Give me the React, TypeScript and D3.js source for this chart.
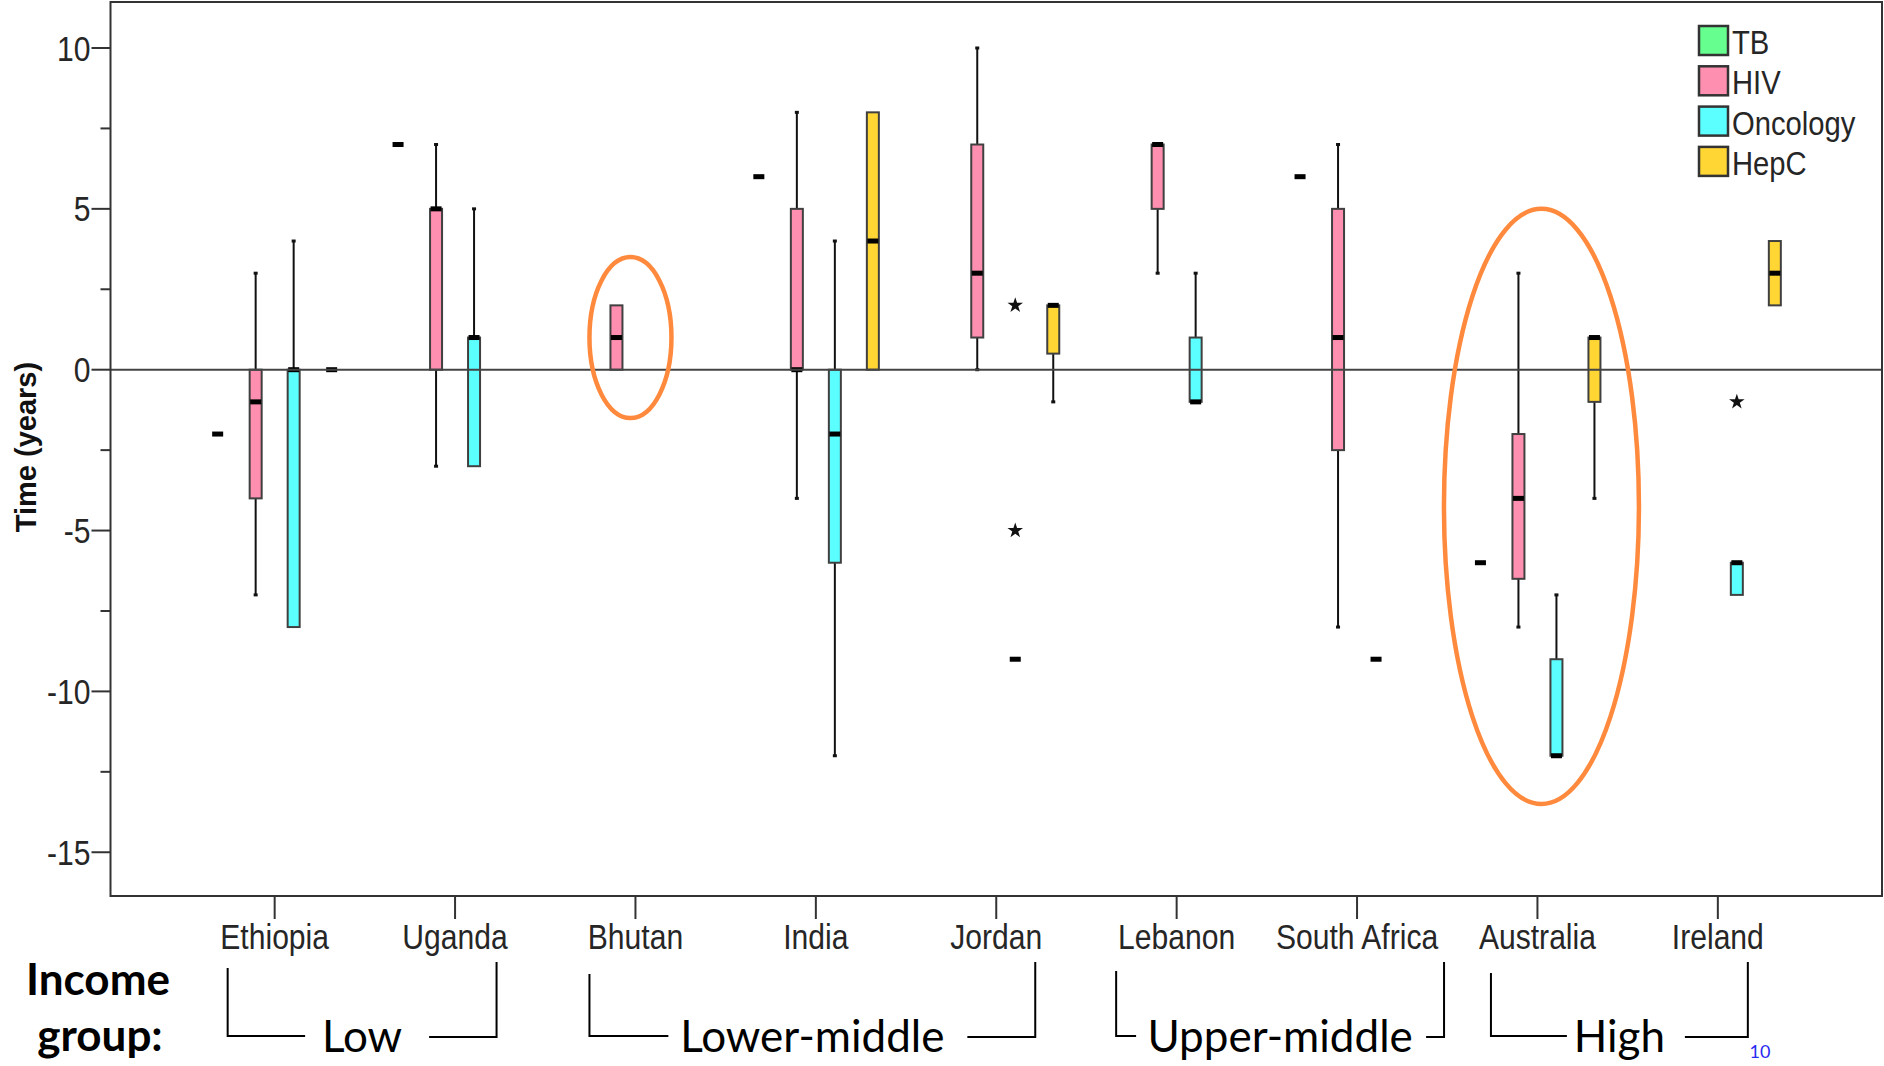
import React from "react";
import * as d3 from "d3";

// categories along the x axis
const categories = [
  "Ethiopia",
  "Uganda",
  "Bhutan",
  "India",
  "Jordan",
  "Lebanon",
  "South Africa",
  "Australia",
  "Ireland"
];

const seriesNames = ["TB", "HIV", "Oncology", "HepC"];

// box stats per category: [lowWhisker, q1, median, q3, highWhisker], null = no data
const tbStats = [
  [-2, -2, -2, -2, -2],
  [7, 7, 7, 7, 7],
  null,
  [6, 6, 6, 6, 6],
  null,
  null,
  [6, 6, 6, 6, 6],
  [-6, -6, -6, -6, -6],
  null
];

const hivStats = [
  [-7, -4, -1, 0, 3],
  [-3, 0, 5, 5, 7],
  [0, 0, 1, 2, 2],
  [-4, 0, 0, 5, 8],
  [0, 1, 3, 7, 10],
  [3, 5, 7, 7, 7],
  [-8, -2.5, 1, 5, 7],
  [-8, -6.5, -4, -2, 3],
  null
];

const oncologyStats = [
  [-8, -8, 0, 0, 4],
  [-3, -3, 1, 1, 5],
  null,
  [-12, -6, -2, 0, 4],
  [-9, -9, -9, -9, -9],
  [-1, -1, -1, 1, 3],
  [-9, -9, -9, -9, -9],
  [-12, -12, -12, -9, -7],
  [-7, -7, -6, -6, -6]
];

const hepcStats = [
  [0, 0, 0, 0, 0],
  null,
  null,
  [0, 0, 4, 8, 8],
  [-1, 0.5, 2, 2, 2],
  null,
  null,
  [-4, -1, 1, 1, 1],
  [2, 2, 3, 4, 4]
];

const allStats = [tbStats, hivStats, oncologyStats, hepcStats];

// extreme values (stars)
const extremeCategories = ["Jordan", "Jordan", "Ireland"];
const extremeSeries = ["Oncology", "Oncology", "Oncology"];
const extremeValues = [2, -5, -1];

const yMajorTicks = [10, 5, 0, -5, -10, -15];
const yMinorTicks = [7.5, 2.5, -2.5, -7.5, -12.5];

// income groups under the axis
const groupLabels = ["Low", "Lower-middle", "Upper-middle", "High"];
const groupFirst = ["Ethiopia", "Bhutan", "Lebanon", "Australia"];
const groupLast = ["Uganda", "Jordan", "South Africa", "Ireland"];

// highlighted ellipses: category, centre value, half height (in years)
const ringCategories = ["Bhutan", "Australia"];
const ringCenters = [1, -4.25];
const ringHalfSpans = [2.5, 9.25];

const colors = ["#66FF8F", "#FF8FB0", "#5CFFFF", "#FFD633"];

const W = 1884;
const H = 1066;
const plot = { left: 110.5, right: 1882, top: 2, bottom: 896 };

// hand drawn bracket tweaks (px): outer left, outer right, text gap left/right, left top
const bracketLayout = [
  { outL: -47, outR: 41.5, gapL: 57, gapR: 67, topL: 968 },
  { outL: -46, outR: 39, gapL: 144, gapR: 155, topL: 974 },
  { outL: -60.5, outR: 87, gapL: 144, gapR: 146, topL: 971 },
  { outL: -46.5, outR: 30, gapL: 52.5, gapR: 65.5, topL: 973 }
];
const ringOffsets = [-5, 4];
const ringRx = [41, 97.5];

const narrow = "'Liberation Sans', Arial, sans-serif";
const calibri = "Lato, 'Open Sans', sans-serif";

function Condensed({ x, y, anchor, size, children, fill = "#262626" }) {
  return (
    <text
      transform={`translate(${x},${y}) scale(0.86,1)`}
      textAnchor={anchor}
      fontFamily={narrow}
      fontSize={size}
      fill={fill}
    >
      {children}
    </text>
  );
}

export default function App() {
  const x = d3
    .scalePoint()
    .domain(categories)
    .range([plot.left, plot.right])
    .padding(0.91);
  const offset = d3.scalePoint().domain(seriesNames).range([-57, 57]);
  const y = d3
    .scaleLinear()
    .domain([-16.36, 11.43])
    .range([plot.bottom, plot.top]);

  const boxW = 12;
  const star = d3.symbol().type(d3.symbolStar).size(75)();

  const boxes = [];
  allStats.forEach((list, si) => {
    list.forEach((s, ci) => {
      if (!s) return;
      boxes.push({
        key: `${si}-${ci}`,
        cx: x(categories[ci]) + offset(seriesNames[si]),
        s,
        fill: colors[si]
      });
    });
  });

  return (
    <svg
      width={W}
      height={H}
      style={{ position: "absolute", left: 0, top: 0, background: "#fff" }}
    >
      <rect x={0} y={0} width={W} height={H} fill="#fff" />

      {/* y axis ticks */}
      {yMajorTicks.map(t => (
        <g key={"M" + t}>
          <line
            x1={plot.left - 19}
            x2={plot.left}
            y1={y(t)}
            y2={y(t)}
            stroke="#333"
            strokeWidth={2}
          />
          <Condensed x={plot.left - 20} y={y(t) + 12.5} anchor="end" size={35}>
            {t}
          </Condensed>
        </g>
      ))}
      {yMinorTicks.map(t => (
        <line
          key={"m" + t}
          x1={plot.left - 10}
          x2={plot.left}
          y1={y(t)}
          y2={y(t)}
          stroke="#333"
          strokeWidth={2}
        />
      ))}

      {/* x axis ticks and labels */}
      {categories.map(c => (
        <g key={c}>
          <line
            x1={x(c)}
            x2={x(c)}
            y1={plot.bottom}
            y2={plot.bottom + 23}
            stroke="#333"
            strokeWidth={2}
          />
          <Condensed x={x(c)} y={949} anchor="middle" size={35}>
            {c}
          </Condensed>
        </g>
      ))}

      {/* boxes */}
      {boxes.map(({ key, cx, s, fill }) => (
        <g key={key}>
          {s[0] < s[1] && (
            <g>
              <line x1={cx} x2={cx} y1={y(s[1])} y2={y(s[0])} stroke="#111" strokeWidth={2} />
              <rect x={cx - 2} y={y(s[0]) - 1.5} width={4} height={3} fill="#111" />
            </g>
          )}
          {s[4] > s[3] && (
            <g>
              <line x1={cx} x2={cx} y1={y(s[3])} y2={y(s[4])} stroke="#111" strokeWidth={2} />
              <rect x={cx - 2} y={y(s[4]) - 1.5} width={4} height={3} fill="#111" />
            </g>
          )}
          <rect
            x={cx - boxW / 2}
            y={y(s[3])}
            width={boxW}
            height={y(s[1]) - y(s[3])}
            fill={fill}
            stroke="#404040"
            strokeWidth={2}
          />
          <rect x={cx - 5.5} y={y(s[2]) - 2.5} width={11} height={5} fill="#000" />
        </g>
      ))}

      {/* extremes */}
      {extremeValues.map((v, i) => (
        <path
          key={"e" + i}
          d={star}
          transform={`translate(${x(extremeCategories[i]) + offset(extremeSeries[i])},${y(v)})`}
          fill="#111"
        />
      ))}

      {/* zero reference line */}
      <line
        x1={plot.left}
        x2={plot.right}
        y1={y(0)}
        y2={y(0)}
        stroke="#444"
        strokeWidth={2}
      />

      {/* frame */}
      <rect
        x={plot.left}
        y={plot.top}
        width={plot.right - plot.left}
        height={plot.bottom - plot.top}
        fill="none"
        stroke="#333"
        strokeWidth={2}
      />

      {/* legend */}
      {seriesNames.map((n, i) => (
        <g key={n}>
          <rect
            x={1699}
            y={26 + i * 40.3}
            width={29}
            height={29}
            fill={colors[i]}
            stroke="#333"
            strokeWidth={2.5}
          />
          <Condensed x={1732} y={54 + i * 40.3} anchor="start" size={34}>
            {n}
          </Condensed>
        </g>
      ))}

      {/* highlight rings */}
      {ringCategories.map((c, i) => (
        <ellipse
          key={c}
          cx={x(c) + ringOffsets[i]}
          cy={y(ringCenters[i])}
          rx={ringRx[i]}
          ry={y(ringCenters[i] - ringHalfSpans[i]) - y(ringCenters[i])}
          fill="none"
          stroke="#FF8A3D"
          strokeWidth={4.5}
        />
      ))}

      {/* y axis title */}
      <text
        transform="translate(36,447) rotate(-90)"
        textAnchor="middle"
        fontFamily={narrow}
        fontWeight="bold"
        fontSize={29}
        fill="#111"
      >
        Time (years)
      </text>

      {/* income group brackets */}
      <text x={98} y={995} textAnchor="middle" fontFamily={calibri} fontWeight="bold" fontSize={44} fill="#000">
        Income
      </text>
      <text x={100} y={1051} textAnchor="middle" fontFamily={calibri} fontWeight="bold" fontSize={44} fill="#000">
        group:
      </text>
      {groupLabels.map((g, i) => {
        const b = bracketLayout[i];
        const l = x(groupFirst[i]) + b.outL;
        const r = x(groupLast[i]) + b.outR;
        const mid = (l + r) / 2;
        const ly = 1036;
        return (
          <g key={g} fill="none" stroke="#000" strokeWidth={2}>
            <polyline points={`${l},${b.topL} ${l},${ly} ${mid - b.gapL},${ly}`} />
            <polyline points={`${mid + b.gapR},${ly + 1} ${r},${ly + 1} ${r},962`} />
            <text
              x={mid}
              y={1052}
              textAnchor="middle"
              fontFamily={calibri}
              fontSize={44}
              fill="#000"
              stroke="none"
            >
              {g}
            </text>
          </g>
        );
      })}

      {/* slide number */}
      <text x={1760} y={1058} textAnchor="middle" fontFamily={calibri} fontSize={18} fill="#2A2AF0">
        10
      </text>
    </svg>
  );
}
